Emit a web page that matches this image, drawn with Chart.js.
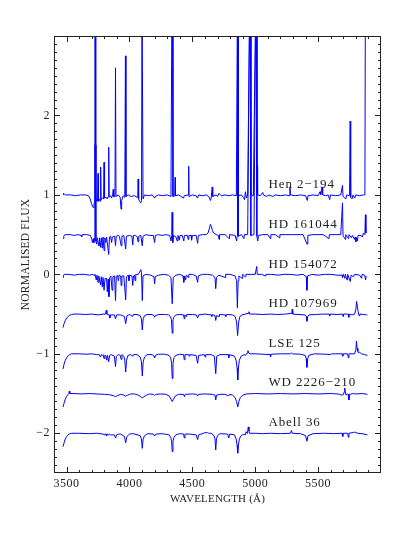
<!DOCTYPE html>
<html>
<head>
<meta charset="utf-8">
<title>Normalised spectra</title>
<script src="https://cdn.jsdelivr.net/npm/chart.js@4.4.1/dist/chart.umd.min.js"></script>
<style>
  html, body { margin: 0; padding: 0; background: #fff; }
  #wrap { width: 415px; height: 537px; position: relative; }
</style>
</head>
<body>
<div id="wrap"><canvas id="spectra"></canvas></div>
<script>
// Axis ranges and labelled ticks
const xRange = [3400, 6000];
const yRange = [-2.5, 3];
const xTickValues = [3500, 4000, 4500, 5000, 5500];
const yTickValues = [-2, -1, 0, 1, 2];

// Star names, drawn just above each spectrum
const starNames = ["Hen 2\u2212194", "HD 161044", "HD 154072", "HD 107969", "LSE 125", "WD 2226\u2212210", "Abell 36"];
const nameWave = 5105;
const nameFlux = [1.085, 0.58, 0.08, -0.41, -0.91, -1.41, -1.91];

// Spectra as [wavelength (A), plotted flux] pairs, each one shifted down by 0.5
const hen2194 = [
  [3472, 1.00], [3476, 1.02], [3482, 1.01], [3490, 1.00], [3530, 1.00], [3570, 0.99], [3610, 1.00], [3650, 1.00],
  [3675, 0.99], [3688, 0.95], [3698, 0.89], [3706, 0.86], [3712, 0.84], [3718, 0.87], [3722, 0.91], [3725, 3.6],
  [3729, 3.6], [3732, 0.92], [3740, 0.94], [3746, 0.92], [3750, 1.27], [3754, 0.92], [3762, 0.95], [3767, 0.92],
  [3771, 1.35], [3775, 0.94], [3786, 0.96], [3794, 0.95], [3798, 1.41], [3802, 0.96], [3814, 0.97], [3822, 0.95],
  [3830, 0.98], [3835, 1.60], [3839, 0.97], [3850, 0.99], [3858, 0.96], [3866, 1.00], [3871, 1.07], [3875, 0.98],
  [3885, 0.98], [3889, 2.60], [3893, 0.98], [3910, 1.00], [3926, 0.97], [3933, 0.82], [3938, 0.93], [3950, 0.99],
  [3963, 0.97], [3968, 2.75], [3972, 0.98], [3990, 1.00], [4010, 0.98], [4040, 0.99], [4060, 0.97], [4066, 0.99],
  [4069, 1.20], [4073, 0.95], [4080, 0.92], [4090, 0.90], [4096, 0.93], [4100, 3.6], [4104, 3.6], [4108, 0.95],
  [4120, 1.00], [4150, 0.99], [4180, 1.00], [4200, 0.96], [4206, 0.98], [4230, 1.00], [4260, 0.99], [4300, 1.00],
  [4330, 0.98], [4338, 3.6], [4342, 3.6], [4346, 0.98], [4360, 0.99], [4363, 1.22], [4366, 0.99], [4390, 1.00],
  [4410, 0.98], [4430, 0.96], [4436, 0.99], [4466, 1.00], [4471, 1.36], [4474, 0.98], [4500, 1.00], [4530, 0.99],
  [4541, 0.96], [4550, 1.00], [4580, 0.99], [4610, 1.00], [4630, 0.98], [4645, 0.93], [4650, 0.97], [4658, 1.10],
  [4662, 0.98], [4690, 1.00], [4700, 0.98], [4712, 1.02], [4730, 0.99], [4760, 1.00], [4790, 0.99], [4820, 1.00],
  [4850, 0.99], [4859, 3.6], [4863, 3.6], [4867, 0.99], [4890, 1.00], [4905, 0.97], [4915, 0.94], [4922, 1.04],
  [4930, 0.96], [4940, 1.00], [4957, 3.6], [4961, 3.6], [4965, 1.00], [4985, 0.99], [5005, 3.6], [5009, 3.6],
  [5013, 1.00], [5016, 1.37], [5019, 1.00], [5040, 0.99], [5060, 1.03], [5064, 1.00], [5090, 0.98], [5110, 1.00],
  [5140, 0.98], [5160, 1.00], [5200, 0.99], [5240, 1.00], [5270, 0.99], [5276, 1.10], [5280, 1.00], [5320, 0.99],
  [5360, 1.00], [5400, 0.99], [5414, 0.93], [5420, 0.99], [5460, 1.00], [5500, 0.99], [5515, 1.04], [5520, 1.00],
  [5532, 1.10], [5536, 1.00], [5560, 0.99], [5580, 1.00], [5592, 0.94], [5598, 1.00], [5640, 0.99], [5680, 1.00],
  [5694, 1.12], [5698, 0.98], [5720, 0.95], [5728, 1.00], [5750, 0.99], [5755, 1.93], [5759, 0.97], [5770, 0.95],
  [5778, 1.00], [5790, 0.96], [5800, 1.00], [5830, 0.99], [5860, 1.00], [5872, 1.00], [5876, 3.6]
];

const hd161044 = [
  [3472, 0.45], [3478, 0.48], [3486, 0.50], [3500, 0.50], [3530, 0.50], [3560, 0.49], [3590, 0.50], [3615, 0.49],
  [3620, 0.47], [3624, 0.50], [3660, 0.50], [3690, 0.49], [3700, 0.44], [3706, 0.40], [3712, 0.45], [3718, 0.40],
  [3722, 0.45], [3725, 1.63], [3729, 1.63], [3733, 0.42], [3739, 0.38], [3744, 0.46], [3750, 0.40], [3757, 0.36],
  [3762, 0.46], [3770, 0.34], [3776, 0.46], [3784, 0.33], [3790, 0.47], [3798, 0.30], [3804, 0.46], [3812, 0.40],
  [3818, 0.47], [3835, 0.25], [3841, 0.47], [3850, 0.48], [3858, 0.40], [3864, 0.47], [3882, 0.48], [3889, 0.36],
  [3895, 0.48], [3910, 0.49], [3920, 0.48], [3934, 0.36], [3940, 0.48], [3955, 0.49], [3970, 0.32], [3976, 0.48],
  [4000, 0.49], [4020, 0.48], [4026, 0.37], [4032, 0.49], [4050, 0.49], [4062, 0.47], [4068, 0.41], [4074, 0.48],
  [4090, 0.49], [4102, 0.36], [4108, 0.48], [4130, 0.50], [4160, 0.49], [4190, 0.49], [4200, 0.40], [4206, 0.49],
  [4230, 0.50], [4260, 0.49], [4290, 0.50], [4320, 0.49], [4330, 0.42], [4336, 0.49], [4339, 0.78], [4342, 0.48],
  [4346, 0.40], [4352, 0.49], [4370, 0.47], [4379, 0.42], [4385, 0.49], [4397, 0.43], [4402, 0.49], [4420, 0.49],
  [4432, 0.42], [4437, 0.49], [4460, 0.49], [4467, 0.44], [4472, 0.49], [4490, 0.49], [4494, 0.43], [4500, 0.49],
  [4530, 0.49], [4542, 0.39], [4548, 0.49], [4580, 0.50], [4610, 0.50], [4625, 0.52], [4636, 0.58], [4644, 0.63],
  [4652, 0.60], [4660, 0.55], [4670, 0.52], [4690, 0.50], [4708, 0.49], [4712, 0.44], [4716, 0.50], [4760, 0.50],
  [4792, 0.45], [4796, 0.50], [4840, 0.49], [4852, 0.42], [4856, 0.48], [4859, 3.6], [4863, 3.6], [4867, 0.48],
  [4890, 0.50], [4910, 0.45], [4914, 0.50], [4940, 0.50], [4957, 3.6], [4961, 3.6], [4965, 0.49], [4990, 0.50],
  [5005, 3.6], [5009, 3.6], [5013, 0.48], [5020, 0.42], [5026, 0.49], [5060, 0.50], [5100, 0.50], [5120, 0.45],
  [5124, 0.50], [5160, 0.50], [5192, 0.46], [5196, 0.50], [5240, 0.50], [5290, 0.50], [5340, 0.50], [5380, 0.50],
  [5412, 0.38], [5418, 0.49], [5460, 0.50], [5500, 0.50], [5540, 0.50], [5586, 0.45], [5590, 0.50], [5640, 0.50],
  [5680, 0.50], [5694, 0.90], [5698, 0.49], [5716, 0.44], [5720, 0.50], [5742, 0.45], [5746, 0.50], [5766, 0.46],
  [5772, 0.49], [5790, 0.44], [5794, 0.47], [5800, 0.41], [5806, 0.46], [5812, 0.42], [5818, 0.49], [5840, 0.49],
  [5852, 0.47], [5860, 0.52], [5872, 0.50], [5876, 0.75], [5880, 0.52]
];

const hd154072 = [
  [3472, -0.04], [3476, -0.01], [3482, 0.00], [3520, 0.00], [3560, -0.01], [3600, 0.00], [3640, 0.00], [3680, -0.01],
  [3710, 0.00], [3722, -0.02], [3726, 0.00], [3736, -0.07], [3742, -0.01], [3750, -0.10], [3756, -0.02], [3770, -0.13],
  [3776, -0.03], [3784, -0.16], [3790, -0.04], [3798, -0.20], [3806, -0.05], [3818, -0.05], [3824, -0.22], [3830, -0.06],
  [3837, -0.28], [3843, -0.04], [3852, -0.02], [3862, -0.20], [3868, -0.03], [3882, -0.02], [3889, -0.33], [3895, -0.03],
  [3905, -0.01], [3912, -0.08], [3918, -0.01], [3930, -0.02], [3934, -0.14], [3940, -0.02], [3955, -0.02], [3970, -0.32],
  [3976, -0.03], [3990, -0.01], [3996, -0.08], [4002, -0.01], [4020, -0.02], [4026, -0.14], [4032, -0.02], [4040, -0.01],
  [4045, -0.08], [4050, 0.00], [4070, 0.00], [4082, 0.03], [4090, 0.06], [4096, 0.02], [4102, -0.33], [4108, -0.02],
  [4130, 0.00], [4170, -0.01], [4195, -0.03], [4200, -0.12], [4205, -0.03], [4230, -0.01], [4270, 0.00], [4310, -0.01],
  [4330, -0.04], [4340, -0.37], [4348, -0.04], [4370, -0.01], [4400, 0.00], [4426, -0.02], [4432, -0.10], [4438, -0.02],
  [4447, -0.07], [4452, -0.01], [4468, -0.04], [4472, 0.00], [4500, 0.00], [4530, -0.02], [4542, -0.10], [4548, -0.02],
  [4580, 0.00], [4620, 0.00], [4660, -0.01], [4680, -0.04], [4686, -0.18], [4692, -0.04], [4710, -0.01], [4760, -0.04],
  [4765, 0.00], [4800, 0.00], [4840, -0.02], [4852, -0.08], [4858, -0.42], [4864, -0.08], [4870, -0.02], [4895, -0.05],
  [4900, 0.00], [4921, -0.03], [4926, 0.00], [4960, 0.00], [5000, 0.00], [5012, 0.10], [5016, 0.00], [5050, 0.00],
  [5080, -0.02], [5085, 0.00], [5130, 0.00], [5180, -0.01], [5230, 0.00], [5280, 0.00], [5330, -0.01], [5380, 0.00],
  [5406, -0.03], [5411, -0.20], [5416, -0.02], [5450, 0.00], [5500, -0.01], [5550, 0.00], [5600, 0.00], [5650, -0.01],
  [5690, -0.01], [5694, -0.04], [5700, 0.00], [5712, -0.05], [5716, 0.00], [5730, -0.07], [5735, 0.00], [5756, -0.09],
  [5762, -0.01], [5780, -0.03], [5790, 0.00], [5830, -0.01], [5846, -0.05], [5850, 0.00], [5870, -0.01], [5878, -0.07],
  [5882, -0.02]
];

const hd107969 = [
  [3472, -0.67], [3480, -0.62], [3490, -0.58], [3500, -0.55], [3512, -0.53], [3525, -0.515], [3540, -0.505], [3560, -0.50],
  [3600, -0.50], [3650, -0.505], [3700, -0.50], [3750, -0.51], [3790, -0.50], [3810, -0.50], [3816, -0.45], [3820, -0.50],
  [3838, -0.51], [3844, -0.55], [3850, -0.51], [3880, -0.51], [3889, -0.56], [3898, -0.51], [3930, -0.51], [3960, -0.53],
  [3970, -0.62], [3980, -0.52], [4000, -0.505], [4026, -0.53], [4032, -0.505], [4060, -0.505], [4085, -0.52], [4095, -0.56],
  [4102, -0.70], [4109, -0.56], [4120, -0.52], [4140, -0.505], [4180, -0.505], [4195, -0.52], [4200, -0.54], [4206, -0.52],
  [4230, -0.505], [4280, -0.505], [4310, -0.51], [4325, -0.53], [4334, -0.57], [4340, -0.74], [4346, -0.57], [4355, -0.53],
  [4370, -0.51], [4400, -0.505], [4430, -0.51], [4436, -0.56], [4440, -0.51], [4450, -0.53], [4455, -0.505], [4500, -0.505],
  [4530, -0.51], [4542, -0.55], [4550, -0.51], [4600, -0.50], [4650, -0.51], [4655, -0.53], [4660, -0.505], [4680, -0.52],
  [4686, -0.58], [4692, -0.52], [4712, -0.53], [4716, -0.505], [4760, -0.51], [4766, -0.53], [4772, -0.505], [4820, -0.51],
  [4840, -0.53], [4852, -0.60], [4860, -0.77], [4868, -0.60], [4878, -0.53], [4895, -0.51], [4920, -0.50], [4945, -0.49],
  [4950, -0.47], [4955, -0.50], [5000, -0.50], [5060, -0.505], [5120, -0.50], [5180, -0.505], [5240, -0.50], [5290, -0.49],
  [5294, -0.44], [5298, -0.50], [5340, -0.505], [5395, -0.51], [5405, -0.53], [5411, -0.59], [5418, -0.53], [5428, -0.51],
  [5480, -0.505], [5540, -0.50], [5588, -0.50], [5592, -0.525], [5596, -0.50], [5650, -0.505], [5694, -0.50], [5698, -0.53],
  [5702, -0.50], [5740, -0.50], [5744, -0.54], [5748, -0.50], [5770, -0.51], [5790, -0.50], [5800, -0.44], [5806, -0.34],
  [5812, -0.40], [5818, -0.47], [5826, -0.52], [5832, -0.50], [5860, -0.505], [5886, -0.51], [5892, -0.51]
];

const lse125 = [
  [3472, -1.19], [3480, -1.13], [3490, -1.08], [3500, -1.05], [3512, -1.025], [3525, -1.01], [3540, -1.00], [3600, -1.00],
  [3660, -1.005], [3700, -1.00], [3740, -1.01], [3760, -1.01], [3770, -1.04], [3776, -1.01], [3784, -1.02], [3790, -1.01],
  [3798, -1.06], [3804, -1.02], [3812, -1.02], [3819, -1.08], [3825, -1.02], [3835, -1.10], [3842, -1.02], [3855, -1.01],
  [3880, -1.03], [3889, -1.16], [3896, -1.03], [3910, -1.01], [3928, -1.02], [3934, -1.07], [3940, -1.01], [3955, -1.03],
  [3963, -1.08], [3970, -1.23], [3977, -1.08], [3988, -1.02], [4010, -1.01], [4026, -1.03], [4032, -1.01], [4060, -1.01],
  [4085, -1.04], [4095, -1.10], [4102, -1.28], [4109, -1.10], [4120, -1.04], [4140, -1.01], [4180, -1.01], [4196, -1.03],
  [4200, -1.05], [4206, -1.02], [4230, -1.005], [4280, -1.005], [4315, -1.02], [4328, -1.05], [4335, -1.12], [4340, -1.31],
  [4346, -1.12], [4354, -1.05], [4368, -1.02], [4400, -1.005], [4430, -1.01], [4436, -1.075], [4441, -1.01], [4470, -1.01],
  [4475, -1.03], [4480, -1.01], [4530, -1.02], [4542, -1.12], [4550, -1.02], [4595, -1.01], [4602, -1.04], [4607, -1.01],
  [4650, -1.01], [4675, -1.03], [4686, -1.25], [4694, -1.03], [4720, -1.01], [4785, -1.01], [4790, -1.05], [4795, -1.01],
  [4835, -1.03], [4848, -1.08], [4856, -1.18], [4861, -1.33], [4866, -1.18], [4874, -1.08], [4888, -1.03], [4910, -1.01],
  [4922, -1.02], [4935, -0.99], [4942, -0.96], [4948, -0.99], [4960, -1.00], [5000, -1.00], [5060, -1.005], [5118, -1.01],
  [5122, -1.04], [5126, -1.005], [5200, -1.00], [5280, -1.00], [5288, -0.99], [5296, -1.00], [5360, -1.005], [5398, -1.02],
  [5405, -1.06], [5411, -1.17], [5417, -1.06], [5425, -1.02], [5470, -1.00], [5560, -1.005], [5600, -1.01], [5606, -1.00],
  [5690, -1.00], [5696, -1.03], [5700, -1.00], [5735, -1.00], [5740, -1.05], [5745, -1.00], [5790, -1.00], [5800, -0.95],
  [5805, -0.84], [5810, -0.93], [5816, -0.97], [5822, -0.99], [5830, -0.98], [5845, -1.00], [5870, -1.01], [5892, -1.02]
];

const wd2226 = [
  [3472, -1.67], [3480, -1.62], [3490, -1.57], [3500, -1.535], [3510, -1.515], [3518, -1.50], [3522, -1.47], [3526, -1.50],
  [3560, -1.50], [3620, -1.505], [3680, -1.50], [3740, -1.505], [3800, -1.51], [3840, -1.515], [3870, -1.525], [3889, -1.54],
  [3905, -1.525], [3930, -1.51], [3955, -1.52], [3970, -1.535], [3985, -1.52], [4010, -1.505], [4040, -1.505], [4070, -1.52],
  [4090, -1.54], [4102, -1.555], [4115, -1.54], [4135, -1.52], [4160, -1.505], [4190, -1.51], [4200, -1.525], [4210, -1.51],
  [4250, -1.505], [4290, -1.51], [4315, -1.53], [4330, -1.57], [4340, -1.60], [4350, -1.57], [4365, -1.53], [4390, -1.51],
  [4430, -1.51], [4437, -1.54], [4443, -1.51], [4500, -1.505], [4535, -1.51], [4542, -1.53], [4550, -1.51], [4600, -1.505],
  [4660, -1.51], [4680, -1.52], [4686, -1.58], [4692, -1.52], [4720, -1.51], [4760, -1.51], [4790, -1.53], [4796, -1.51],
  [4820, -1.52], [4840, -1.55], [4852, -1.60], [4861, -1.67], [4870, -1.60], [4882, -1.55], [4900, -1.52], [4930, -1.505],
  [5000, -1.50], [5100, -1.505], [5200, -1.50], [5300, -1.505], [5400, -1.50], [5500, -1.505], [5600, -1.50], [5650, -1.505],
  [5672, -1.51], [5685, -1.52], [5700, -1.515], [5708, -1.48], [5712, -1.43], [5716, -1.48], [5722, -1.52], [5732, -1.505],
  [5740, -1.51], [5745, -1.58], [5750, -1.51], [5780, -1.50], [5800, -1.505], [5850, -1.50], [5892, -1.51]
];

const abell36 = [
  [3472, -2.17], [3480, -2.12], [3490, -2.07], [3500, -2.04], [3512, -2.02], [3525, -2.005], [3540, -2.00], [3600, -2.00],
  [3680, -2.005], [3740, -2.00], [3790, -2.01], [3800, -2.02], [3805, -2.01], [3815, -2.01], [3819, -2.03], [3825, -2.01],
  [3835, -2.02], [3842, -2.01], [3850, -2.02], [3880, -2.02], [3889, -2.06], [3898, -2.02], [3915, -2.01], [3930, -2.01],
  [3960, -2.04], [3970, -2.12], [3980, -2.04], [4000, -2.01], [4030, -2.005], [4085, -2.03], [4095, -2.07], [4102, -2.19],
  [4109, -2.07], [4120, -2.03], [4145, -2.005], [4190, -2.01], [4200, -2.035], [4210, -2.01], [4260, -2.005], [4315, -2.02],
  [4328, -2.05], [4335, -2.10], [4340, -2.23], [4346, -2.10], [4354, -2.05], [4368, -2.02], [4400, -2.005], [4430, -2.01],
  [4436, -2.06], [4441, -2.01], [4480, -2.01], [4530, -2.02], [4542, -2.08], [4550, -2.02], [4590, -2.00], [4600, -1.99],
  [4610, -1.995], [4620, -1.99], [4630, -2.00], [4650, -2.00], [4672, -2.03], [4680, -2.07], [4686, -2.21], [4692, -2.07],
  [4700, -2.03], [4720, -2.005], [4780, -2.01], [4790, -2.06], [4796, -2.01], [4835, -2.02], [4848, -2.07], [4856, -2.15],
  [4861, -2.25], [4866, -2.15], [4874, -2.07], [4888, -2.03], [4910, -2.01], [4922, -2.02], [4928, -1.98], [4935, -2.00],
  [4940, -1.97], [4945, -1.92], [4950, -1.97], [4956, -2.00], [5000, -2.00], [5060, -2.005], [5120, -2.00], [5200, -2.005],
  [5280, -2.00], [5288, -1.965], [5294, -2.00], [5360, -2.005], [5400, -2.03], [5411, -2.10], [5420, -2.03], [5460, -2.005],
  [5550, -2.00], [5620, -2.005], [5690, -2.00], [5696, -2.04], [5700, -2.00], [5735, -2.00], [5740, -2.05], [5745, -2.00],
  [5780, -1.99], [5792, -1.985], [5800, -1.99], [5815, -2.00], [5850, -2.005], [5892, -2.02]
];

const allSpectra = [hen2194, hd161044, hd154072, hd107969, lse125, wd2226, abell36];

const inkColor = "#222";
const fontName = "'Liberation Serif', 'DejaVu Serif', serif";

// Frame, inward ticks on all four sides, and all text of the plot
const framePlugin = {
  id: "frame",
  afterDatasetsDraw(chart) {
    const { ctx, chartArea: area, scales } = chart;
    const xs = scales.x;
    const ys = scales.y;
    ctx.save();
    ctx.strokeStyle = inkColor;
    ctx.lineWidth = 1;
    ctx.strokeRect(area.left + 0.5, area.top + 0.5, area.right - area.left - 1, area.bottom - area.top - 1);

    ctx.beginPath();
    for (let v = xRange[0] + 100; v < xRange[1]; v += 100) {
      const px = Math.round(xs.getPixelForValue(v)) + 0.5;
      const len = xTickValues.includes(v) ? 6 : 3;
      ctx.moveTo(px, area.bottom); ctx.lineTo(px, area.bottom - len);
      ctx.moveTo(px, area.top); ctx.lineTo(px, area.top + len);
    }
    for (let i = yRange[0] * 10 + 1; i < yRange[1] * 10; i++) {
      const py = Math.round(ys.getPixelForValue(i / 10)) + 0.5;
      const len = i % 10 === 0 ? 6 : 3;
      ctx.moveTo(area.left, py); ctx.lineTo(area.left + len, py);
      ctx.moveTo(area.right, py); ctx.lineTo(area.right - len, py);
    }
    ctx.stroke();

    ctx.fillStyle = inkColor;
    // Tick labels
    ctx.font = "12px " + fontName;
    ctx.letterSpacing = "0.5px";
    ctx.textAlign = "center";
    ctx.textBaseline = "alphabetic";
    xTickValues.forEach((v) => ctx.fillText(String(v), xs.getPixelForValue(v), 487));
    ctx.textAlign = "right";
    ctx.textBaseline = "middle";
    yTickValues.forEach((v) => {
      const text = v < 0 ? "\u2212" + Math.abs(v) : String(v);
      ctx.fillText(text, area.left - 4, ys.getPixelForValue(v));
    });

    // Axis titles
    ctx.letterSpacing = "0.2px";
    ctx.font = "11px " + fontName;
    ctx.textAlign = "center";
    ctx.textBaseline = "alphabetic";
    ctx.fillText("WAVELENGTH (\u00c5)", (area.left + area.right) / 2, 501.5);
    ctx.save();
    ctx.font = "11.5px " + fontName;
    ctx.translate(26, (area.top + area.bottom) / 2);
    ctx.rotate(-Math.PI / 2);
    ctx.textBaseline = "middle";
    ctx.fillText("NORMALISED FLUX", 0, 0);
    ctx.restore();

    // Star names
    ctx.font = "13px " + fontName;
    ctx.letterSpacing = "0.9px";
    ctx.textAlign = "left";
    ctx.textBaseline = "alphabetic";
    starNames.forEach((name, i) => {
      ctx.fillText(name, xs.getPixelForValue(nameWave), ys.getPixelForValue(nameFlux[i]));
    });
    ctx.restore();
  },
};

const ctx = document.getElementById("spectra").getContext("2d");
new Chart(ctx, {
  type: "line",
  data: {
    datasets: allSpectra.map((spectrum, i) => ({
      label: starNames[i],
      data: spectrum.map(([x, y]) => ({ x, y })),
      borderColor: "#0000ff",
      borderWidth: 1,
      pointRadius: 0,
      tension: 0,
      fill: false,
    })),
  },
  options: {
    responsive: true,
    maintainAspectRatio: false,
    animation: false,
    layout: { padding: { left: 54, right: 34, top: 36, bottom: 64 } },
    plugins: { legend: { display: false }, tooltip: { enabled: false } },
    scales: {
      x: { type: "linear", min: xRange[0], max: xRange[1], display: false },
      y: { type: "linear", min: yRange[0], max: yRange[1], display: false },
    },
  },
  plugins: [framePlugin],
});
</script>
</body>
</html>
